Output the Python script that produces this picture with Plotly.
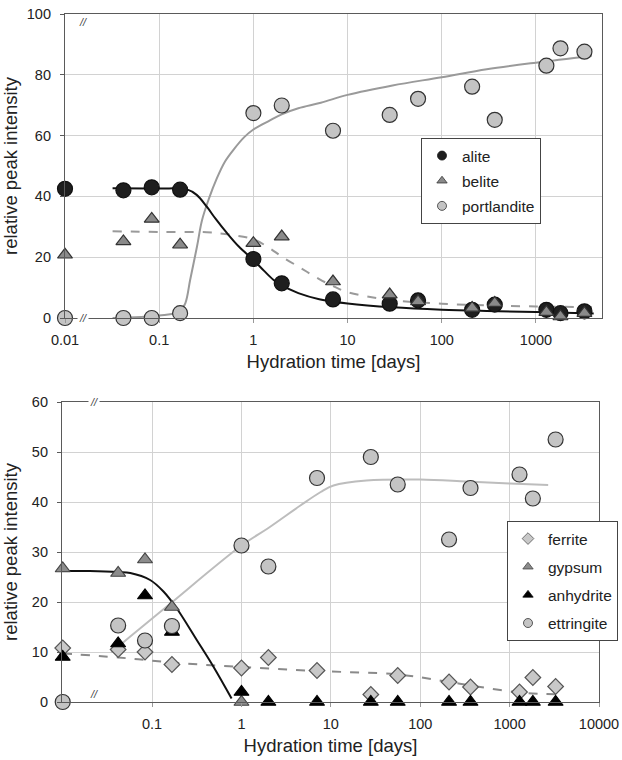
import plotly.graph_objects as go

# ---------------- data ----------------
# top panel: clinker phases + portlandite
t_top = [0.01, 0.0417, 0.0833, 0.1667, 1, 2, 7, 28, 56, 210, 365, 1290, 1820, 3270]
alite = [42.5, 42.0, 43.0, 42.2, 19.4, 11.4, 6.1, 4.7, 5.8, 2.7, 4.4, 2.7, 1.6, 2.2]
belite = [20.8, 25.2, 32.6, 24.1, 24.6, 26.8, 12.0, 7.7, 5.5, 3.3, 4.9, 1.9, 0.5, 1.6]
portlandite = [0, 0, 0, 1.6, 67.4, 69.9, 61.6, 66.8, 72.1, 76.1, 65.2, 83.0, 88.7, 87.6]

alite_fit_t = [0.032, 0.1, 0.197, 0.25, 0.32, 0.4, 0.525, 0.7, 1, 1.3, 1.64, 2, 3, 5, 10, 30, 100, 300, 1000, 4100]
alite_fit = [42.7, 42.6, 42.3, 40.5, 36.6, 32.5, 27.9, 23.5, 19.1, 15.5, 12.5, 10.7, 8.2, 6.2, 4.8, 3.5, 2.7, 2.3, 2.0, 1.5]
belite_fit_t = [0.032, 0.1, 0.32, 0.6, 1, 1.5, 2, 3.16, 5, 7, 10, 27, 100, 1000, 4100]
belite_fit = [28.5, 28.3, 28.2, 27.3, 25.9, 22.9, 20.2, 16.5, 12.8, 10.5, 8.5, 6.0, 4.7, 3.8, 3.6]
port_fit_t = [0.032, 0.1, 0.167, 0.19, 0.213, 0.252, 0.284, 0.335, 0.41, 0.5, 0.62, 0.8, 1, 1.5, 2, 3, 5.2, 10, 30, 100, 300, 1000, 3900]
port_fit = [0, 0.8, 2.2, 5.0, 12.5, 23.5, 32.0, 39.0, 46.0, 51.5, 55.5, 59.5, 62.0, 65.0, 67.0, 69.0, 70.8, 73.4, 76.5, 79.2, 81.8, 84.0, 86.2]

# bottom panel: ferrite, sulfates, ettringite
t_bot = [0.01, 0.0417, 0.0833, 0.1667, 1, 2, 7, 28, 56, 210, 365, 1290, 1820, 3270]
ferrite = [10.8, 10.5, 10.0, 7.5, 6.8, 8.9, 6.3, 1.5, 5.3, 4.0, 3.0, 2.0, 4.9, 3.1]
t_gyp = [0.01, 0.0417, 0.0833, 0.1667, 1]
gypsum = [26.7, 25.8, 28.5, 19.0, 0]
anhydrite = [9.0, 11.7, 21.3, 14.0, 2.0, 0, 0, 0, 0, 0, 0, 0, 0, 0]
ettringite = [0, 15.3, 12.3, 15.2, 31.3, 27.1, 44.8, 49.0, 43.5, 32.5, 42.8, 45.5, 40.7, 52.5]

ferr_fit_t = [0.01, 0.042, 0.167, 1, 7, 56, 210, 365, 1300, 4000]
ferr_fit = [9.7, 8.9, 7.9, 7.0, 6.2, 5.5, 4.0, 3.3, 1.9, 1.5]
sulf_fit_t = [0.008, 0.02, 0.042, 0.057, 0.095, 0.134, 0.189, 0.316, 0.484, 0.775]
sulf_fit = [26.2, 26.2, 26.0, 25.8, 24.4, 22.1, 18.7, 12.4, 7.1, 0.7]
ettr_fit_t = [0.035, 0.057, 0.146, 1, 2, 4.56, 7.7, 10.7, 25, 100, 330, 1000, 2700]
ettr_fit = [9.9, 13.1, 19.1, 31.3, 34.8, 39.3, 42.0, 43.3, 44.3, 44.5, 44.1, 43.7, 43.4]

top_ticks = [0.01, 0.1, 1, 10, 100, 1000]
top_ticktext = ["0.01", "0.1", "1", "10", "100", "1000"]
bot_ticks = [0.1, 1, 10, 100, 1000, 10000]
bot_ticktext = ["0.1", "1", "10", "100", "1000", "10000"]

# ---------------- figure ----------------
W, H = 622, 760
fig = go.Figure()

def px_x(p):
    return p / W

def px_y(p):
    return 1 - p / H

def line(x, y, color, width, dash, xa, ya):
    fig.add_trace(go.Scatter(x=x, y=y, mode="lines", xaxis=xa, yaxis=ya,
                             line=dict(color=color, width=width, dash=dash, shape="spline", smoothing=1.0),
                             showlegend=False, hoverinfo="skip", cliponaxis=False))

def pts(x, y, name, symbol, fill, edge, size, xa, ya, legend, group):
    # data marks
    fig.add_trace(go.Scatter(x=x, y=y, mode="markers", name=name, xaxis=xa, yaxis=ya,
                             marker=dict(symbol=symbol, color=fill, size=size,
                                         line=dict(color=edge, width=1.2)),
                             legendgroup=group, showlegend=False, cliponaxis=False))
    # small legend swatch (legend-only entry, no data)
    fig.add_trace(go.Scatter(x=[None], y=[None], mode="markers", name=name, xaxis=xa, yaxis=ya,
                             marker=dict(symbol=symbol, color=fill, size=9,
                                         line=dict(color=edge, width=0.8)),
                             legend=legend, legendgroup=group, showlegend=True))

# top panel lines
line(port_fit_t, port_fit, "#9a9a9a", 2, "solid", "x", "y")
line(belite_fit_t, belite_fit, "#9a9a9a", 2, "dash", "x", "y")
line(alite_fit_t, alite_fit, "#111111", 2, "solid", "x", "y")
# top panel points
pts(t_top, alite, "alite", "circle", "#1e1e1e", "#111111", 15, "x", "y", "legend", "a")
pts(t_top, belite, "belite", "triangle-up", "#8a8a8a", "#333333", 13, "x", "y", "legend", "b")
pts(t_top, portlandite, "portlandite", "circle", "#c4c4c4", "#333333", 15, "x", "y", "legend", "c")

# bottom panel lines
line(ettr_fit_t, ettr_fit, "#bdbdbd", 2, "solid", "x2", "y2")
line(ferr_fit_t, ferr_fit, "#8a8a8a", 2, "dash", "x2", "y2")
line(sulf_fit_t, sulf_fit, "#111111", 2, "solid", "x2", "y2")
# bottom panel points
pts(t_bot, ferrite, "ferrite", "diamond", "#c8c8c8", "#555555", 12, "x2", "y2", "legend2", "d")
pts(t_gyp, gypsum, "gypsum", "triangle-up", "#8c8c8c", "#444444", 13, "x2", "y2", "legend2", "e")
pts(t_bot, anhydrite, "anhydrite", "triangle-up", "#000000", "#000000", 13, "x2", "y2", "legend2", "f")
pts(t_bot, ettringite, "ettringite", "circle", "#c4c4c4", "#333333", 15, "x2", "y2", "legend2", "g")

FONT = "Liberation Sans, Arial, sans-serif"
tickfont = dict(family=FONT, size=14.5, color="#222222")
titlefont = dict(family=FONT, size=18.5, color="#222222")
grid = "#d2d2d2"
axc = "#5a5a5a"

common_x = dict(type="log", showgrid=True, gridcolor=grid, gridwidth=1, showline=True,
                linecolor=axc, linewidth=1.2, mirror=True, ticks="outside", ticklen=4,
                tickcolor="#999999", tickfont=tickfont, zeroline=False, automargin=False,
                ticklabelstandoff=4)
common_y = dict(showgrid=True, gridcolor=grid, gridwidth=1, showline=True, linecolor=axc,
                linewidth=1.2, mirror=True, ticks="outside", ticklen=4, tickcolor=axc,
                tickfont=tickfont, zeroline=False, automargin=False, ticklabelstandoff=6)

legfont = dict(family=FONT, size=15.5, color="#222222")

fig.update_layout(
    width=W, height=H,
    margin=dict(l=0, r=0, t=0, b=0, autoexpand=False),
    paper_bgcolor="white", plot_bgcolor="white",
    font=dict(family=FONT, color="#222222"),
    xaxis=dict(common_x, domain=[px_x(65), px_x(602)], range=[-2, 3.701], anchor="y",
               tickvals=top_ticks, ticktext=top_ticktext,
               title=dict(text="Hydration time [days]", font=titlefont, standoff=8)),
    yaxis=dict(common_y, domain=[px_y(318), px_y(14)], range=[0, 100], anchor="x",
               tickvals=[0, 20, 40, 60, 80, 100],
               title=dict(text="relative peak intensity", font=titlefont, standoff=5)),
    xaxis2=dict(common_x, domain=[px_x(62), px_x(599)], range=[-2.008, 4], anchor="y2",
                tickvals=bot_ticks, ticktext=bot_ticktext,
                title=dict(text="Hydration time [days]", font=titlefont, standoff=8)),
    yaxis2=dict(common_y, domain=[px_y(702), px_y(402)], range=[0, 60], anchor="x2",
                tickvals=[0, 10, 20, 30, 40, 50, 60],
                title=dict(text="relative peak intensity", font=titlefont, standoff=10)),
    legend=dict(x=px_x(421), y=px_y(138), xanchor="left", yanchor="top",
                bgcolor="white", bordercolor="#444444", borderwidth=1,
                font=legfont, traceorder="grouped", tracegroupgap=2),
    legend2=dict(x=px_x(507), y=px_y(521), xanchor="left", yanchor="top",
                 bgcolor="white", bordercolor="#444444", borderwidth=1,
                 font=legfont, traceorder="grouped", tracegroupgap=5),
    showlegend=True,
)

# axis-break marks
for (bx, by) in [(77, 14), (77, 318), (88, 402), (88, 702)]:
    fig.add_annotation(x=px_x(bx), y=px_y(by), xref="paper", yref="paper",
                       text="<i>//</i>", showarrow=False, bgcolor="white", borderpad=1,
                       font=dict(family=FONT, size=11, color="#444444"))

fig.write_html("out.html")
